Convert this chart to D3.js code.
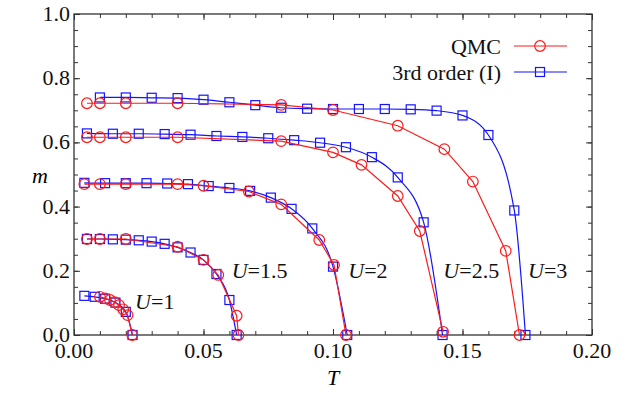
<!DOCTYPE html>
<html>
<head>
<meta charset="utf-8">
<script src="https://cdn.jsdelivr.net/npm/d3@7"></script>
<style>
  body { margin: 0; background: #fff; }
  svg { display: block; }
  svg text { font-family: "Times New Roman", Times, "Liberation Serif", "Nimbus Roman", "Nimbus Roman No9 L", "DejaVu Serif", "Noto Serif", serif; }
</style>
</head>
<body>
<script>
// QMC data (red circles), [T, m]
const qmcU1 = [[0.010, 0.119], [0.012, 0.114], [0.0139, 0.109], [0.0156, 0.102], [0.0174, 0.093], [0.019, 0.080], [0.0207, 0.062], [0.0225, 0]];
const qmcU15 = [[0.005, 0.299], [0.010, 0.299], [0.020, 0.299], [0.040, 0.275], [0.050, 0.234], [0.0557, 0.187], [0.0628, 0.060], [0.0635, 0]];
const qmcU2 = [[0.004, 0.470], [0.010, 0.470], [0.020, 0.470], [0.040, 0.470], [0.050, 0.465], [0.0675, 0.447], [0.080, 0.407], [0.0947, 0.296], [0.1004, 0.218], [0.105, 0]];
const qmcU25 = [[0.005, 0.616], [0.010, 0.616], [0.020, 0.616], [0.040, 0.616], [0.080, 0.604], [0.100, 0.569], [0.111, 0.530], [0.125, 0.433], [0.1335, 0.324], [0.1425, 0.01]];
const qmcU3 = [[0.005, 0.722], [0.010, 0.722], [0.020, 0.722], [0.040, 0.722], [0.080, 0.717], [0.100, 0.701], [0.125, 0.652], [0.143, 0.579], [0.154, 0.478], [0.1667, 0.262], [0.172, 0]];

// 3rd order (I) data (blue squares), [T, m]
const thirdU1 = [[0.004, 0.122], [0.008, 0.119], [0.012, 0.113], [0.016, 0.101], [0.020, 0.072], [0.0226, 0]];
const thirdU15 = [[0.005, 0.299], [0.010, 0.299], [0.015, 0.298], [0.020, 0.297], [0.025, 0.295], [0.030, 0.291], [0.035, 0.284], [0.040, 0.273], [0.045, 0.257], [0.050, 0.234], [0.055, 0.190], [0.060, 0.109], [0.0628, 0]];
const thirdU2 = [[0.004, 0.474], [0.012, 0.473], [0.020, 0.473], [0.028, 0.473], [0.036, 0.472], [0.044, 0.470], [0.052, 0.464], [0.060, 0.458], [0.068, 0.449], [0.076, 0.428], [0.084, 0.393], [0.092, 0.332], [0.100, 0.213], [0.1055, 0]];
const thirdU25 = [[0.005, 0.628], [0.015, 0.627], [0.025, 0.627], [0.035, 0.626], [0.045, 0.624], [0.055, 0.620], [0.065, 0.617], [0.075, 0.613], [0.085, 0.607], [0.095, 0.599], [0.105, 0.585], [0.115, 0.554], [0.125, 0.491], [0.135, 0.351], [0.1423, 0]];
const thirdU3 = [[0.010, 0.740], [0.020, 0.740], [0.030, 0.739], [0.040, 0.738], [0.050, 0.733], [0.060, 0.725], [0.070, 0.716], [0.080, 0.708], [0.090, 0.705], [0.100, 0.704], [0.110, 0.704], [0.120, 0.704], [0.130, 0.703], [0.140, 0.699], [0.150, 0.684], [0.160, 0.623], [0.170, 0.388], [0.1743, 0]];

const qmcSeries = [qmcU1, qmcU15, qmcU2, qmcU25, qmcU3];
const thirdSeries = [thirdU1, thirdU15, thirdU2, thirdU25, thirdU3];

// curve labels: U value and the point (T, m) where the text starts
const uValues = ["1", "1.5", "2", "2.5", "3"];
const uLabelAt = [[0.0236, 0.106], [0.0609, 0.2025], [0.1059, 0.2025], [0.1426, 0.2025], [0.1753, 0.2025]];

const xTicks = [0, 0.05, 0.10, 0.15, 0.20];
const yTicks = [0, 0.2, 0.4, 0.6, 0.8, 1.0];
const legendNames = ["QMC", "3rd order (I)"];

const width = 636, height = 394;
const margin = { top: 14, right: 44, bottom: 59, left: 74 };
const red = "#ff1a1a", blue = "#1414ff";

const x = d3.scaleLinear().domain([0, 0.2]).range([margin.left, width - margin.right]);
const y = d3.scaleLinear().domain([0, 1]).range([height - margin.bottom, margin.top]);

const svg = d3.select("body").append("svg")
  .attr("width", width)
  .attr("height", height);

// Ticks on all four sides, pointing inward.
const minorX = d3.range(0, 0.2001, 0.01);
const minorY = d3.range(0, 1.0001, 0.05);
const axisColor = "#333";

function tickAxis(axisFn, scale, translate, values, size) {
  svg.append("g")
    .attr("transform", translate)
    .call(axisFn(scale).tickValues(values).tickSize(size).tickFormat(""))
    .call((g) => g.select(".domain").remove())
    .call((g) => g.selectAll("line").attr("stroke", axisColor).attr("stroke-width", 1));
}
const bottomY = y(0), topY = y(1), leftX = x(0), rightX = x(0.2);
tickAxis(d3.axisBottom, x, `translate(0,${bottomY})`, minorX, -4);
tickAxis(d3.axisTop, x, `translate(0,${topY})`, minorX, -4);
tickAxis(d3.axisLeft, y, `translate(${leftX},0)`, minorY, -4);
tickAxis(d3.axisRight, y, `translate(${rightX},0)`, minorY, -4);
tickAxis(d3.axisBottom, x, `translate(0,${bottomY})`, xTicks, -6);
tickAxis(d3.axisTop, x, `translate(0,${topY})`, xTicks, -6);
tickAxis(d3.axisLeft, y, `translate(${leftX},0)`, yTicks, -6);
tickAxis(d3.axisRight, y, `translate(${rightX},0)`, yTicks, -6);

// Frame
svg.append("rect")
  .attr("x", leftX).attr("y", topY)
  .attr("width", rightX - leftX).attr("height", bottomY - topY)
  .attr("fill", "none").attr("stroke", axisColor).attr("stroke-width", 1.3);

// Tick labels
svg.append("g").selectAll("text").data(xTicks).join("text")
  .attr("x", (d) => x(d)).attr("y", bottomY + 23)
  .attr("text-anchor", "middle").attr("font-size", 22).attr("fill", "#111")
  .text((d) => d3.format(".2f")(d));

svg.append("g").selectAll("text").data(yTicks).join("text")
  .attr("x", leftX - 4).attr("y", (d) => y(d)).attr("dy", "0.32em")
  .attr("text-anchor", "end").attr("font-size", 22).attr("fill", "#111")
  .text((d) => d3.format(".1f")(d));

// Axis titles
svg.append("text").attr("x", 40).attr("y", 176).attr("dy", "0.3em")
  .attr("text-anchor", "middle").attr("font-size", 22).attr("font-style", "italic")
  .text("m");
svg.append("text").attr("x", x(0.1)).attr("y", 385)
  .attr("text-anchor", "middle").attr("font-size", 22).attr("font-style", "italic")
  .text("T");

const plot = svg.append("g");

// 3rd order curves: smooth lines with square markers
const smooth = d3.line().x((d) => x(d[0])).y((d) => y(d[1])).curve(d3.curveMonotoneX);
const straight = d3.line().x((d) => x(d[0])).y((d) => y(d[1]));

plot.append("g").selectAll("path").data(thirdSeries).join("path")
  .attr("d", smooth).attr("fill", "none").attr("stroke", blue).attr("stroke-width", 1.2);

const sq = 9;
plot.append("g").selectAll("rect").data(thirdSeries.flat()).join("rect")
  .attr("x", (d) => x(d[0]) - sq / 2).attr("y", (d) => y(d[1]) - sq / 2)
  .attr("width", sq).attr("height", sq)
  .attr("fill", "none").attr("stroke", blue).attr("stroke-width", 1.2);

// QMC: straight segments with circle markers
plot.append("g").selectAll("path").data(qmcSeries).join("path")
  .attr("d", straight).attr("fill", "none").attr("stroke", red).attr("stroke-width", 1.2);

plot.append("g").selectAll("circle").data(qmcSeries.flat()).join("circle")
  .attr("cx", (d) => x(d[0])).attr("cy", (d) => y(d[1])).attr("r", 5.3)
  .attr("fill", "none").attr("stroke", red).attr("stroke-width", 1.2);

// U labels
const labels = svg.append("g").selectAll("text").data(uValues).join("text")
  .attr("x", (d, i) => x(uLabelAt[i][0]))
  .attr("y", (d, i) => y(uLabelAt[i][1]))
  .attr("dy", "0.35em")
  .attr("font-size", 22).attr("fill", "#111");
labels.append("tspan").attr("font-style", "italic").text("U");
labels.append("tspan").text((d) => "=" + d);

// Legend
const legend = svg.append("g");
const rowY = [46, 72];
legendNames.forEach((name, i) => {
  const color = i === 0 ? red : blue;
  legend.append("text")
    .attr("x", 501).attr("y", rowY[i]).attr("dy", "0.35em")
    .attr("text-anchor", "end").attr("font-size", 22).attr("fill", "#111")
    .text(name);
  legend.append("line")
    .attr("x1", 514).attr("x2", 567).attr("y1", rowY[i]).attr("y2", rowY[i])
    .attr("stroke", color).attr("stroke-width", 1.2);
  if (i === 0) {
    legend.append("circle").attr("cx", 540).attr("cy", rowY[i]).attr("r", 5.3)
      .attr("fill", "none").attr("stroke", color).attr("stroke-width", 1.2);
  } else {
    legend.append("rect").attr("x", 540 - sq / 2).attr("y", rowY[i] - sq / 2)
      .attr("width", sq).attr("height", sq)
      .attr("fill", "none").attr("stroke", color).attr("stroke-width", 1.2);
  }
});
</script>
</body>
</html>
